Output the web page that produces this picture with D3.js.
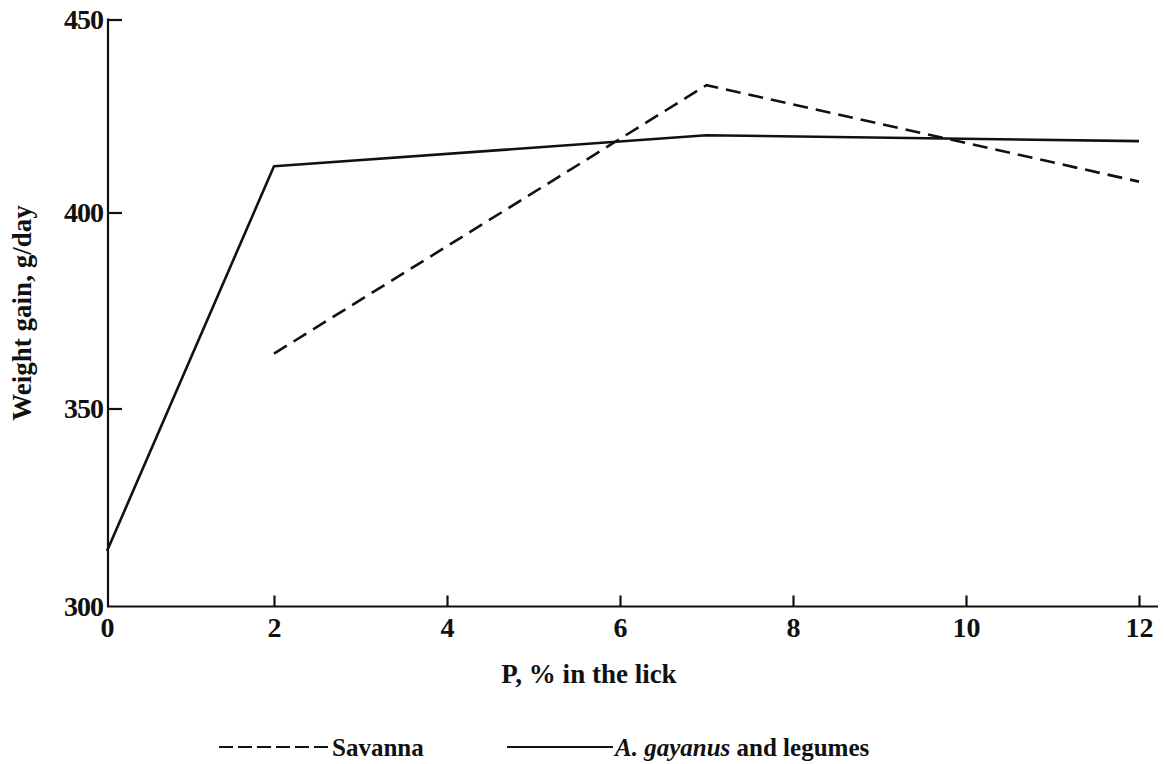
<!DOCTYPE html>
<html>
<head>
<meta charset="utf-8">
<script src="https://cdn.jsdelivr.net/npm/d3@7"></script>
<style>
  html, body { margin: 0; padding: 0; background: #fff; }
  svg { display: block; }
</style>
</head>
<body>
<svg id="chart" width="1164" height="764"></svg>
<script>
// ---- data ----
const xTicks = [0, 2, 4, 6, 8, 10, 12];
const yTicks = [300, 350, 400, 450];
const gayanusP = [0, 2, 7, 12];
const gayanusGain = [314, 412, 420, 418.5];
const savannaP = [2, 7, 12];
const savannaGain = [364, 433, 408];
const xTitle = "P, % in the lick";
const yTitle = "Weight gain, g/day";
const legendSavanna = "Savanna";
const legendGayanusItalic = "A. gayanus";
const legendGayanusRest = " and legumes";

// ---- drawing ----
const svg = d3.select("#chart")
  .attr("font-family", "Liberation Serif, DejaVu Serif, serif")
  .attr("font-weight", "bold");
const ink = "#111";
const serif = "Liberation Serif, DejaVu Serif, serif";

const x = d3.scaleLinear().domain([0, 2, 12]).range([107, 274, 1139]);
const y = d3.scaleLinear().domain([300, 350, 400, 450]).range([606.5, 408.5, 212.5, 19.5]);

// x axis
const xAxis = d3.axisBottom(x).tickValues(xTicks).tickFormat(d3.format("d")).tickSize(0).tickPadding(11);
const gx = svg.append("g").attr("transform", `translate(0,${y(300)})`).call(xAxis)
  .attr("font-size", 28).attr("font-family", serif).attr("font-weight", "bold");
gx.select(".domain").remove();
gx.append("line").attr("x1", 107).attr("x2", 1158).attr("y1", 0).attr("y2", 0)
  .attr("stroke", ink).attr("stroke-width", 2.2);
gx.selectAll(".tick").filter(d => d !== 0).append("line")
  .attr("y1", 0).attr("y2", -11).attr("stroke", ink).attr("stroke-width", 2.2);
gx.selectAll(".tick text").attr("fill", ink);

// y axis
const yAxis = d3.axisLeft(y).tickValues(yTicks).tickFormat(d3.format("d")).tickSize(0).tickPadding(5);
const gy = svg.append("g").attr("transform", `translate(108,0)`).call(yAxis)
  .attr("font-size", 28).attr("font-family", serif).attr("font-weight", "bold");
gy.select(".domain").remove();
gy.append("line").attr("x1", 0).attr("x2", 0).attr("y1", y(450) - 1).attr("y2", y(300))
  .attr("stroke", ink).attr("stroke-width", 2.2);
gy.selectAll(".tick").filter(d => d !== 300).append("line")
  .attr("x1", 0).attr("x2", 14).attr("stroke", ink).attr("stroke-width", 2.2);
gy.selectAll(".tick text").attr("fill", ink).attr("letter-spacing", -1);

// lines
const line = d3.line().x(d => x(d[0])).y(d => y(d[1]));
svg.append("path").datum(d3.zip(gayanusP, gayanusGain)).attr("d", line)
  .attr("fill", "none").attr("stroke", ink).attr("stroke-width", 2.6).attr("stroke-linejoin", "round");
svg.append("path").datum(d3.zip(savannaP, savannaGain)).attr("d", line)
  .attr("fill", "none").attr("stroke", ink).attr("stroke-width", 2.6)
  .attr("stroke-dasharray", "15,8").attr("stroke-linejoin", "miter");

// axis titles
svg.append("text").attr("x", 589).attr("y", 683).attr("text-anchor", "middle")
  .attr("font-size", 27).attr("fill", ink).text(xTitle);
svg.append("text").attr("transform", "translate(31,313) rotate(-90)").attr("text-anchor", "middle")
  .attr("font-size", 27).attr("fill", ink).text(yTitle);

// legend
const ly = 747;
svg.append("line").attr("x1", 219).attr("x2", 329).attr("y1", ly).attr("y2", ly)
  .attr("stroke", ink).attr("stroke-width", 2).attr("stroke-dasharray", "14,5");
svg.append("text").attr("x", 332).attr("y", ly + 9).attr("font-size", 25).attr("fill", ink)
  .text(legendSavanna);
svg.append("line").attr("x1", 507).attr("x2", 613).attr("y1", ly).attr("y2", ly)
  .attr("stroke", ink).attr("stroke-width", 2);
const lt = svg.append("text").attr("x", 615).attr("y", ly + 9).attr("font-size", 25).attr("fill", ink);
lt.append("tspan").attr("font-style", "italic").text(legendGayanusItalic);
lt.append("tspan").text(legendGayanusRest);
</script>
</body>
</html>
